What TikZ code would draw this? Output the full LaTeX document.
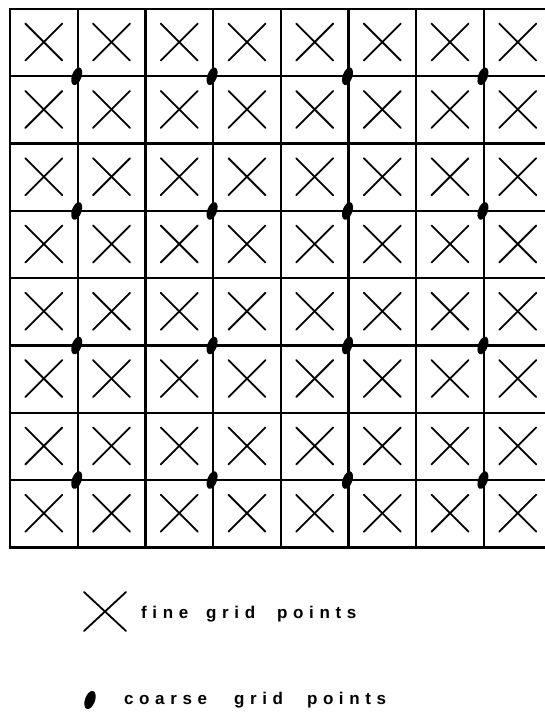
\documentclass[tikz,border=0pt]{standalone}
\usepackage{fontspec}
\newfontfamily\lgfont[LetterSpace=33]{Liberation Sans}
\tikzset{
  gridline/.style={line width=2.2pt, black},
  borderline/.style={line width=2.6pt, black},
  fineX/.style={line width=1.8pt, black, line cap=round},
  coarsedot/.style={fill=black, draw=none},
  legendtext/.style={anchor=base west, inner sep=0pt, font=\lgfont\bfseries\fontsize{17}{18}\selectfont}
}
\begin{document}
\begin{tikzpicture}[x=1pt,y=-1pt]
\useasboundingbox (0,0) rectangle (545,714);
\begin{scope}
\clip (0,0) rectangle (545,560);
% horizontal lines
\foreach \j in {1,...,7} {
  \draw[gridline] (10,{9+67.3*\j}) -- (548,{9+67.3*\j});
}
% vertical lines
\foreach \i in {1,...,7} {
  \draw[gridline] ({10+67.7*\i},9) -- ({10+67.7*\i},547.4);
}
% outer border
\draw[borderline] (548,9) -- (10,9) -- (10,547.4) -- (548,547.4);
% fine grid crosses
\foreach \i in {0,...,7} {
  \foreach \j in {0,...,7} {
    \pgfmathsetmacro{\cx}{10+67.7*\i+33.85}
    \pgfmathsetmacro{\cy}{9+67.3*\j+33.1}
    \draw[fineX] (\cx-18.5,\cy-18.5) -- (\cx+18.5,\cy+18.5);
    \draw[fineX] (\cx-18.5,\cy+18.5) -- (\cx+18.5,\cy-18.5);
  }
}
% coarse grid points
\foreach \i in {1,3,5,7} {
  \foreach \j in {1,3,5,7} {
    \fill[coarsedot, rotate around={-20:({10+67.7*\i-1},{9+67.3*\j})}] ({10+67.7*\i-1},{9+67.3*\j}) ellipse [x radius=4.8, y radius=9.2];
  }
}
\end{scope}
% legend
\draw[fineX] (84,592) -- (126,631);
\draw[fineX] (84,631) -- (126,592);
\node[legendtext] (fine) at (141,618) {fine\hspace{18pt}grid\hspace{22pt}points};
\fill[coarsedot, rotate around={-20:(90,700)}] (90,700) ellipse [x radius=5, y radius=9.5];
\node[legendtext] (coarse) at (124,704) {coarse\hspace{27pt}grid\hspace{24pt}points};
\end{tikzpicture}
\end{document}
